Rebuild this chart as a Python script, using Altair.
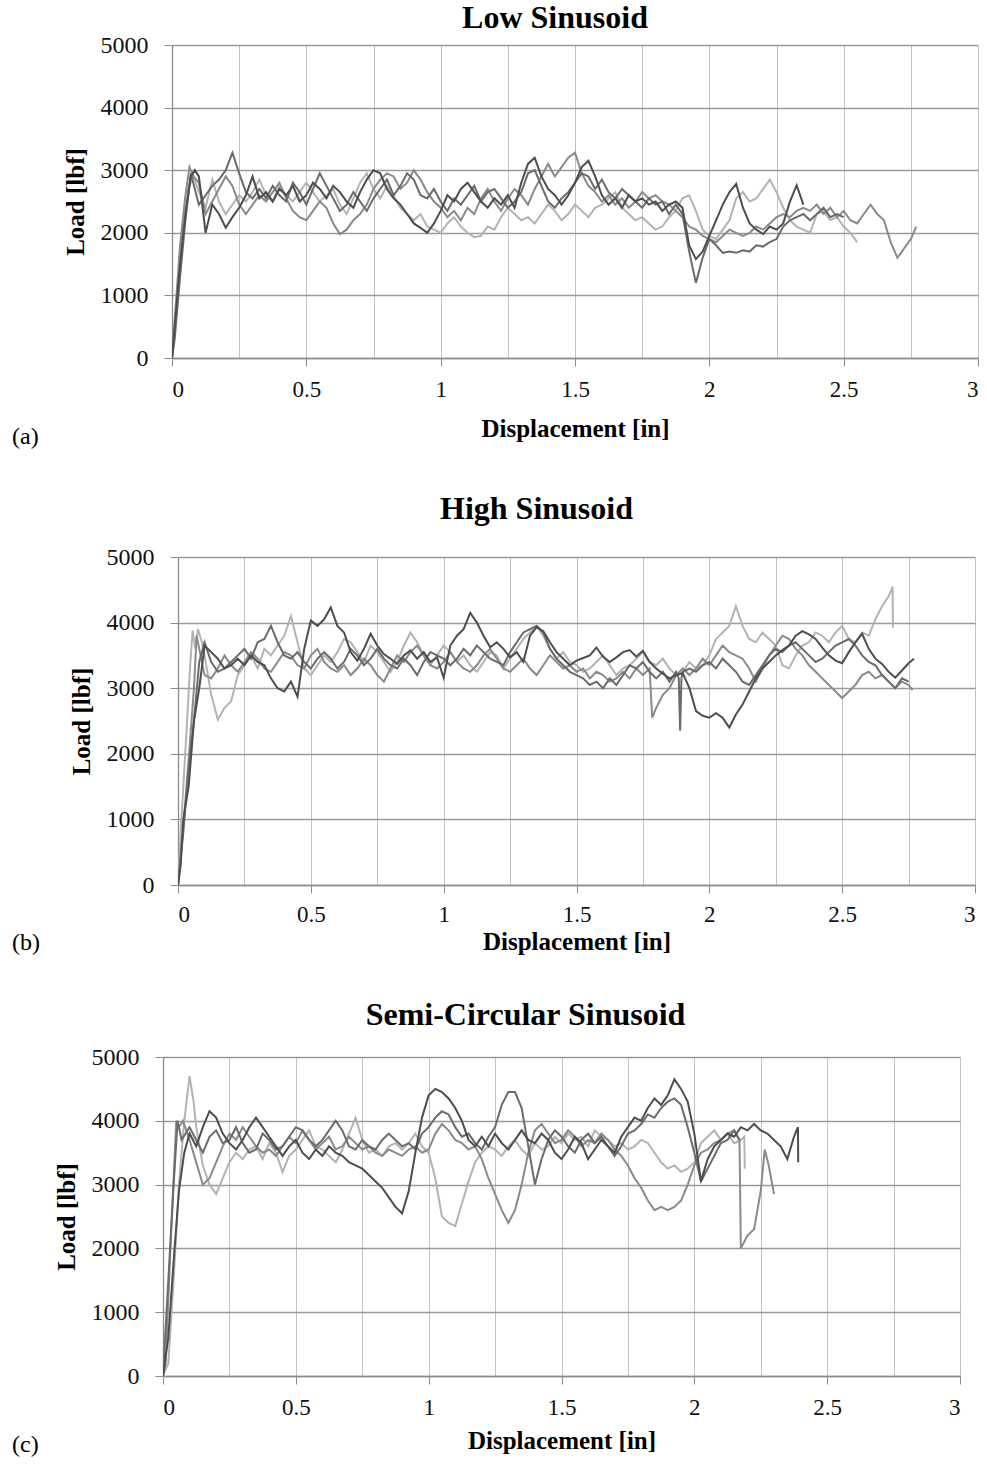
import altair as alt
import pandas as pd

STEP = 0.025
FONT = "Liberation Serif"

# ---------------- Panel (a) Low Sinusoid ----------------
A_D_RISE_X = [0, 0.01, 0.03, 0.05, 0.07, 0.085]
A_D_RISE_Y = [0, 500, 1500, 2300, 2900, 3000]
A_D_START = 0.1
A_D = [2900, 2000, 2450, 2300, 2080, 2250, 2400, 2600, 2900, 2550,
       2650, 2500, 2700, 2600, 2750, 2500, 2600, 2800, 2700, 2550,
       2750, 2650, 2500, 2400, 2650, 2850, 3000, 2950, 2700, 2550,
       2450, 2300, 2150, 2080, 2000, 2150, 2350, 2600, 2500, 2700,
       2800, 2650, 2500, 2400, 2550, 2450, 2600, 2400, 2800, 3100,
       3200, 2900, 2700, 2600, 2450, 2600, 2800, 3050, 3150, 2900,
       2600, 2450, 2550, 2400, 2600, 2500, 2550, 2450, 2500, 2350,
       2450, 2500, 2400, 1800, 1580, 1700, 1950, 2200, 2450, 2650,
       2780, 2400, 2150, 2050, 1980, 2100, 2050, 2150, 2500, 2760,
       2450]

A_MD_RISE_X = [0, 0.01, 0.03, 0.05, 0.07, 0.085]
A_MD_RISE_Y = [0, 300, 1300, 2200, 2950, 2700]
A_MD_START = 0.1
A_MD = [2450, 2600, 2750, 2850, 3000, 3280, 2950, 2650, 2550, 2700,
        2550, 2750, 2600, 2500, 2800, 2650, 2450, 2700, 2950, 2750,
        2550, 2350, 2450, 2650, 2500, 2350, 2550, 2700, 2850, 2600,
        2750, 2950, 2850, 2600, 2550, 2700, 2500, 2350, 2550, 2450,
        2600, 2750, 2500, 2650, 2700, 2550, 2400, 2500, 2650, 2950,
        3000, 2750, 2500, 2400, 2550, 2650, 2800, 2950, 2900, 2700,
        2850, 2650, 2550, 2700, 2600, 2500, 2400, 2550, 2450, 2500,
        2300, 2450, 2300, 1700, 1200, 1600, 1900, 1800, 1680, 1700,
        1680, 1720, 1700, 1800, 1780, 1850, 1900, 2100, 2200, 2250,
        2300, 2200, 2300, 2400, 2250, 2300, 2250]

A_M_RISE_X = [0, 0.01, 0.03, 0.05, 0.065, 0.08]
A_M_RISE_Y = [0, 600, 1800, 2600, 3050, 2900]
A_M_START = 0.1
A_M = [2800, 2300, 2500, 2700, 2900, 2750, 2450, 2300, 2450, 2600,
       2500, 2650, 2800, 2550, 2350, 2250, 2200, 2350, 2500, 2400,
       2150, 1980, 2050, 2200, 2300, 2450, 2700, 2850, 2950, 2900,
       2700, 2800, 3000, 2850, 2650, 2500, 2400, 2250, 2350, 2200,
       2400, 2300, 2550, 2700, 2500, 2350, 2550, 2700, 2600, 2450,
       2700, 2900, 3100, 2900, 3050, 3200, 3280, 2950, 2750, 2650,
       2500, 2600, 2450, 2550, 2400, 2500, 2650, 2550, 2600, 2500,
       2450, 2350, 2250, 2100, 2050, 1950, 1900, 1850, 1950, 2050,
       2000, 1950, 2000, 2100, 2050, 2150, 2250, 2300, 2250, 2350,
       2400, 2350, 2450, 2300, 2400, 2250, 2350, 2200, 2150, 2300,
       2450, 2300, 2200, 1850, 1600, 1750, 1900]
A_M_END_X = [2.77]
A_M_END_Y = [2100]

A_L_RISE_X = [0, 0.02, 0.04, 0.06, 0.08]
A_L_RISE_Y = [0, 1000, 2000, 2700, 2900]
A_L_START = 0.1
A_L = [2650, 2400, 2850, 2500, 2300, 2450, 2600, 2500, 2650, 2850,
       2600, 2500, 2750, 2600, 2500, 2650, 2800, 2650, 2500, 2600,
       2700, 2450, 2300, 2550, 2800, 2950, 2700, 2550, 2750, 2600,
       2400, 2300, 2200, 2300, 2100, 2050, 2000, 2150, 2250, 2100,
       2000, 1930, 1950, 2100, 2050, 2250, 2400, 2300, 2200, 2250,
       2150, 2300, 2450, 2350, 2200, 2300, 2450, 2350, 2250, 2400,
       2450, 2550, 2650, 2400, 2300, 2200, 2250, 2150, 2050, 2100,
       2250, 2350, 2550, 2600, 2350, 2050, 1950, 1900, 2050, 2200,
       2550, 2650, 2500, 2550, 2700, 2850, 2650, 2400, 2200, 2100,
       2050, 2000, 2300, 2350, 2200, 2250, 2100, 2000, 1850]

# ---------------- Panel (b) High Sinusoid ----------------
B_D_RISE_X = [0, 0.01, 0.02, 0.04, 0.06, 0.08]
B_D_RISE_Y = [0, 300, 1000, 1500, 2500, 3000]
B_D_START = 0.1
B_D = [3650, 3550, 3450, 3300, 3350, 3450, 3350, 3500, 3400, 3350,
       3150, 3000, 2950, 3100, 2870, 3600, 4030, 3950, 4050, 4230,
       3950, 3850, 3550, 3420, 3600, 3830, 3650, 3520, 3450, 3370,
       3500, 3575, 3450, 3550, 3400, 3470, 3160, 3650, 3800, 3900,
       4150, 4000, 3800, 3625, 3700, 3600, 3470, 3550, 3400, 3800,
       3930, 3870, 3700, 3550, 3450, 3350, 3420, 3460, 3500, 3620,
       3480, 3400, 3470, 3550, 3580, 3480, 3570, 3400, 3300, 3220,
       3150, 3200, 3230, 3000, 2650, 2580, 2550, 2620, 2550, 2400,
       2600, 2750, 2950, 3150, 3300, 3400, 3500, 3580, 3650, 3800,
       3870, 3820, 3750, 3620, 3500, 3420, 3380, 3550, 3700, 3830,
       3600, 3450, 3370, 3250, 3160, 3270, 3380]
B_D_END_X = [2.77]
B_D_END_Y = [3450]

B_MD_RISE_X = [0, 0.02, 0.04, 0.06, 0.08]
B_MD_RISE_Y = [0, 800, 1800, 2500, 3400]
B_MD_START = 0.1
B_MD = [3700, 3400, 3250, 3300, 3400, 3500, 3600, 3450, 3700, 3750,
        3950, 3700, 3500, 3450, 3550, 3400, 3300, 3450, 3550, 3450,
        3300, 3400, 3600, 3500, 3350, 3450, 3600, 3450, 3350, 3300,
        3450, 3350, 3200, 3400, 3550, 3500, 3450, 3350, 3450, 3600,
        3500, 3650, 3550, 3450, 3400, 3350, 3550, 3700, 3850, 3900,
        3950, 3850, 3600, 3450, 3350, 3250, 3200, 3150, 3050, 3100,
        3000, 3150, 3050, 3200, 3350, 3300, 3400, 3250, 3150, 3250,
        3100, 3250, 3250, 3300, 3250, 3350, 3400, 3300, 3450, 3350,
        3250, 3100, 3050, 3200, 3350, 3500, 3600, 3550, 3650, 3700,
        3600, 3500, 3400, 3450, 3550, 3650, 3700, 3750, 3650, 3500,
        3400, 3350, 3200, 3100, 3000, 3150, 3100]
B_MD_SPIKE_X = [1.885, 1.89, 1.895]
B_MD_SPIKE_Y = [3150, 2350, 3150]

B_M_RISE_X = [0, 0.02, 0.04, 0.06, 0.07, 0.085]
B_M_RISE_Y = [0, 900, 1900, 3000, 3800, 3500]
B_M_START = 0.1
B_M = [3200, 3150, 3300, 3500, 3350, 3250, 3400, 3550, 3450, 3300,
       3250, 3400, 3550, 3500, 3350, 3300, 3500, 3600, 3400, 3300,
       3250, 3350, 3200, 3300, 3450, 3350, 3200, 3100, 3300, 3500,
       3400, 3550, 3650, 3500, 3350, 3300, 3400, 3550, 3400, 3300,
       3250, 3350, 3500, 3600, 3450, 3300, 3250, 3350, 3450, 3300,
       3200, 3350, 3500, 3400, 3300, 3350, 3250, 3300, 3150, 3250,
       3200, 3100, 3150, 3250, 3150, 3300, 3200, 3300, 2700, 2900,
       3000, 3200, 3300, 3200, 3300, 3450, 3350, 3500, 3650, 3550,
       3500, 3450, 3300, 3100, 3300, 3500, 3650, 3800, 3750, 3600,
       3500, 3350, 3250, 3150, 3050, 2950, 2850, 2950, 3050, 3200,
       3250, 3150, 3200, 3100, 3000, 3100, 3050]
B_M_EXTRA_X = [1.785, 2.765]
B_M_EXTRA_Y = [2550, 2970]

B_L_RISE_X = [0, 0.01, 0.03, 0.045, 0.055, 0.065, 0.075, 0.09]
B_L_RISE_Y = [0, 800, 2200, 3300, 3880, 3600, 3900, 3700]
B_L_START = 0.1
B_L = [3500, 2900, 2520, 2700, 2800, 3200, 3350, 3500, 3300, 3600,
       3500, 3650, 3800, 4100, 3700, 3300, 3200, 3350, 3500, 3400,
       3550, 3750, 3700, 3550, 3400, 3650, 3550, 3400, 3250, 3400,
       3650, 3850, 3700, 3500, 3350, 3500, 3650, 3550, 3400, 3500,
       3350, 3250, 3400, 3550, 3500, 3300, 3450, 3600, 3750, 3850,
       3950, 3800, 3600, 3450, 3550, 3400, 3350, 3250, 3300, 3400,
       3500, 3350, 3200, 3300, 3350, 3450, 3550, 3400, 3350, 3450,
       3300, 3200, 3250, 3400, 3300, 3350, 3500, 3750, 3850, 3950,
       4250, 3950, 3750, 3700, 3850, 3750, 3650, 3350, 3300, 3500,
       3650, 3700, 3850, 3800, 3700, 3850, 3950, 3750, 3700, 3850,
       3800, 4050, 4250, 4400]
B_L_END_X = [2.69, 2.691]
B_L_END_Y = [4550, 3920]

# ---------------- Panel (c) Semi-Circular Sinusoid ----------------
C_D_RISE_X = [0, 0.02, 0.04, 0.06, 0.08]
C_D_RISE_Y = [0, 600, 1800, 2900, 3500]
C_D_START = 0.1
C_D = [3800, 3600, 3900, 4150, 4050, 3800, 3650, 3550, 3700, 3900,
       4050, 3900, 3750, 3600, 3450, 3600, 3700, 3500, 3400, 3550,
       3450, 3600, 3500, 3450, 3350, 3300, 3250, 3150, 3050, 2950,
       2800, 2650, 2550, 2900, 3500, 4050, 4400, 4500, 4450, 4350,
       4200, 4000, 3700, 3600, 3750, 3600, 3800, 3650, 3550, 3700,
       3850, 3700, 3650, 3800, 3700, 3500, 3400, 3550, 3750, 3650,
       3400, 3550, 3700, 3600, 3500, 3750, 3900, 4050, 4000, 4200,
       4350, 4250, 4400, 4650, 4500, 4300, 3800, 3050, 3400, 3600,
       3700, 3800, 3750, 3900, 3850, 3950, 3850, 3800, 3700, 3600,
       3400, 3750]
C_D_END_X = [2.39, 2.391]
C_D_END_Y = [3900, 3350]

C_MD_RISE_X = [0, 0.02, 0.04, 0.055, 0.07]
C_MD_RISE_Y = [0, 1500, 3000, 4000, 3700]
C_MD_START = 0.1
C_MD = [3900, 3700, 3500, 3750, 3850, 3650, 3700, 3900, 3650, 3500,
        3550, 3800, 3700, 3550, 3600, 3750, 3900, 3850, 3700, 3600,
        3700, 3850, 4000, 3850, 3600, 3550, 3700, 3600, 3550, 3700,
        3800, 3700, 3600, 3650, 3550, 3800, 3900, 4050, 4150, 4100,
        3900, 3750, 3800, 3650, 3550, 3750, 3900, 4250, 4450, 4450,
        4200, 3600, 3000, 3400, 3700, 3850, 3750, 3600, 3500, 3700,
        3800, 3650, 3750, 3600, 3450, 3600, 3800, 3850, 3950, 4100,
        4050, 4200, 4300, 4350, 4250, 3900, 3500, 3050, 3250, 3450,
        3650, 3700, 3850]
C_MD_END_X = [2.17]
C_MD_END_Y = [3700]

C_M_RISE_X = [0, 0.01, 0.03, 0.05, 0.06, 0.075]
C_M_RISE_Y = [0, 200, 2200, 4000, 3900, 4000]
C_M_START = 0.1
C_M = [3700, 3350, 3000, 3100, 3350, 3600, 3800, 3700, 3900, 3750,
       3600, 3500, 3550, 3450, 3600, 3750, 3650, 3850, 3700, 3550,
       3650, 3750, 3550, 3600, 3750, 3650, 3550, 3600, 3500, 3450,
       3550, 3500, 3450, 3550, 3600, 3500, 3550, 3800, 3950, 3850,
       3700, 3650, 3550, 3600, 3400, 3100, 2850, 2600, 2400, 2600,
       3000, 3500, 3850, 3950, 3800, 3650, 3700, 3850, 3750, 3600,
       3700, 3650, 3800, 3700, 3550, 3450, 3300, 3100, 2950, 2750,
       2600, 2650, 2600, 2650, 2750, 3000, 3300, 3500, 3550, 3650,
       3700, 3800, 3850]
C_M_END_X = [2.17, 2.175, 2.2, 2.225, 2.25, 2.265, 2.28, 2.3]
C_M_END_Y = [3700, 2000, 2200, 2300, 2900, 3550, 3300, 2850]

C_L_RISE_X = [0, 0.02, 0.04, 0.06, 0.08, 0.1, 0.115]
C_L_RISE_Y = [0, 200, 1500, 3000, 4000, 4700, 4300]
C_L_START = 0.125
C_L = [3900, 3300, 3000, 2850, 3100, 3350, 3500, 3400, 3550, 3600,
       3400, 3650, 3500, 3200, 3450, 3550, 3700, 3850, 3600, 3550,
       3450, 3350, 3550, 3800, 4050, 3700, 3500, 3550, 3450, 3600,
       3650, 3550, 3650, 3800, 3600, 3500, 3100, 2500, 2400, 2350,
       2700, 3050, 3350, 3500, 3600, 3550, 3450, 3600, 3700, 3550,
       3450, 3650, 3550, 3600, 3750, 3650, 3800, 3700, 3750, 3600,
       3850, 3750, 3700, 3600, 3650, 3550, 3600, 3700, 3650, 3500,
       3350, 3250, 3300, 3200, 3250, 3350, 3650, 3750, 3850, 3700,
       3800, 3650, 3700]
C_L_END_X = [2.188, 2.19]
C_L_END_Y = [3750, 3250]

X_GRID = [0, 0.25, 0.5, 0.75, 1, 1.25, 1.5, 1.75, 2, 2.25, 2.5, 2.75, 3]
Y_TICKS = [0, 1000, 2000, 3000, 4000, 5000]
SERIES = ["s1_light", "s2_mid", "s3_middark", "s4_dark"]
GRAYS = ["#b3b3b3", "#8a8a8a", "#6b6b6b", "#4d4d4d"]


def series(name, rx, ry, start, vals, ex=(), ey=()):
    xs = list(rx) + [round(start + i * STEP, 4) for i in range(len(vals))] + list(ex)
    ys = list(ry) + list(vals) + list(ey)
    pts = sorted(zip(xs, ys), key=lambda p: p[0])
    return pd.DataFrame({"x": [p[0] for p in pts], "y": [p[1] for p in pts],
                         "s": name, "i": list(range(len(pts)))})


def panel_df(parts):
    return pd.concat(parts, ignore_index=True)


df_a = panel_df([
    series("s1_light", A_L_RISE_X, A_L_RISE_Y, A_L_START, A_L),
    series("s2_mid", A_M_RISE_X, A_M_RISE_Y, A_M_START, A_M, A_M_END_X, A_M_END_Y),
    series("s3_middark", A_MD_RISE_X, A_MD_RISE_Y, A_MD_START, A_MD),
    series("s4_dark", A_D_RISE_X, A_D_RISE_Y, A_D_START, A_D),
])
df_b = panel_df([
    series("s1_light", B_L_RISE_X, B_L_RISE_Y, B_L_START, B_L, B_L_END_X, B_L_END_Y),
    series("s2_mid", B_M_RISE_X, B_M_RISE_Y, B_M_START, B_M, B_M_EXTRA_X, B_M_EXTRA_Y),
    series("s3_middark", B_MD_RISE_X, B_MD_RISE_Y, B_MD_START, B_MD, B_MD_SPIKE_X, B_MD_SPIKE_Y),
    series("s4_dark", B_D_RISE_X, B_D_RISE_Y, B_D_START, B_D, B_D_END_X, B_D_END_Y),
])
df_c = panel_df([
    series("s1_light", C_L_RISE_X, C_L_RISE_Y, C_L_START, C_L, C_L_END_X, C_L_END_Y),
    series("s2_mid", C_M_RISE_X, C_M_RISE_Y, C_M_START, C_M, C_M_END_X, C_M_END_Y),
    series("s3_middark", C_MD_RISE_X, C_MD_RISE_Y, C_MD_START, C_MD, C_MD_END_X, C_MD_END_Y),
    series("s4_dark", C_D_RISE_X, C_D_RISE_Y, C_D_START, C_D, C_D_END_X, C_D_END_Y),
])


def panel(df, title, w, h, title_dx, title_offset, tag, tag_x, tag_y, xtitle_y, xlab_pad):
    x_axis = alt.Axis(
        values=X_GRID, grid=True, gridColor="#c2c2c2", gridWidth=1,
        labelExpr="datum.value % 0.5 == 0 ? toString(datum.value) : ''",
        tickOpacity={"condition": {"test": "datum.value % 0.5 == 0", "value": 1}, "value": 0},
        tickSize=8, tickColor="#8c8c8c", domainColor="#8c8c8c", domainWidth=1.3,
        labelFont=FONT, labelFontSize=23, labelColor="#111111", labelPadding=xlab_pad,
        title="Displacement [in]", titleFont=FONT, titleFontSize=25,
        titleFontWeight="bold", titleColor="#000000",
        titleY=xtitle_y, titleBaseline="middle",
    )
    y_axis = alt.Axis(
        values=Y_TICKS, format="d", grid=True, gridColor="#9a9a9a", gridWidth=1.4,
        tickSize=8, tickColor="#8c8c8c", domainColor="#8c8c8c", domainWidth=1.3,
        labelFont=FONT, labelFontSize=24, labelColor="#111111", labelPadding=16,
        title="Load [lbf]", titleFont=FONT, titleFontSize=25,
        titleFontWeight="bold", titleColor="#000000",
        titleX=-97, titleBaseline="middle",
    )
    lines = alt.Chart(df).mark_line(strokeWidth=2, clip=True).encode(
        x=alt.X("x:Q", scale=alt.Scale(domain=[0, 3], nice=False), axis=x_axis),
        y=alt.Y("y:Q", scale=alt.Scale(domain=[0, 5000], nice=False), axis=y_axis),
        color=alt.Color("s:N", scale=alt.Scale(domain=SERIES, range=GRAYS), legend=None),
        order=alt.Order("i:Q"),
    )
    label = alt.Chart(pd.DataFrame({"t": [tag]})).mark_text(
        font=FONT, fontSize=24, align="left", baseline="middle", color="#000000"
    ).encode(text="t:N", x=alt.value(tag_x), y=alt.value(tag_y))
    return alt.layer(lines, label).properties(
        width=w, height=h,
        title=alt.TitleParams(title, font=FONT, fontSize=32, fontWeight="bold",
                              color="#000000", frame="group", anchor="middle",
                              dx=title_dx, offset=title_offset),
    )


def spacer():
    # invisible 1-px element so each panel keeps its own left offset
    return alt.Chart(pd.DataFrame({"t": [""]})).mark_text(opacity=0).encode(
        text="t:N", x=alt.value(0), y=alt.value(0)
    ).properties(width=1, height=1)


pa = panel(df_a, "Low Sinusoid", 806, 313, -20, -2, "(a)", -160, 313 + 79, 70, 12)
pb = panel(df_b, "High Sinusoid", 797, 328, -40, 19, "(b)", -166, 328 + 58, 56, 10)
pc = panel(df_c, "Semi-Circular Sinusoid", 797, 319, -36, 13, "(c)", -151, 319 + 69, 64, 12)

rows = [alt.hconcat(spacer(), p, spacing=0) for p in (pa, pb, pc)]

chart = alt.vconcat(*rows, spacing=44).configure_view(stroke=None).properties(
    padding={"left": 11, "top": 2, "right": 0, "bottom": 3}
)

chart.save("out.html", embed_options={"renderer": "svg", "actions": False})
